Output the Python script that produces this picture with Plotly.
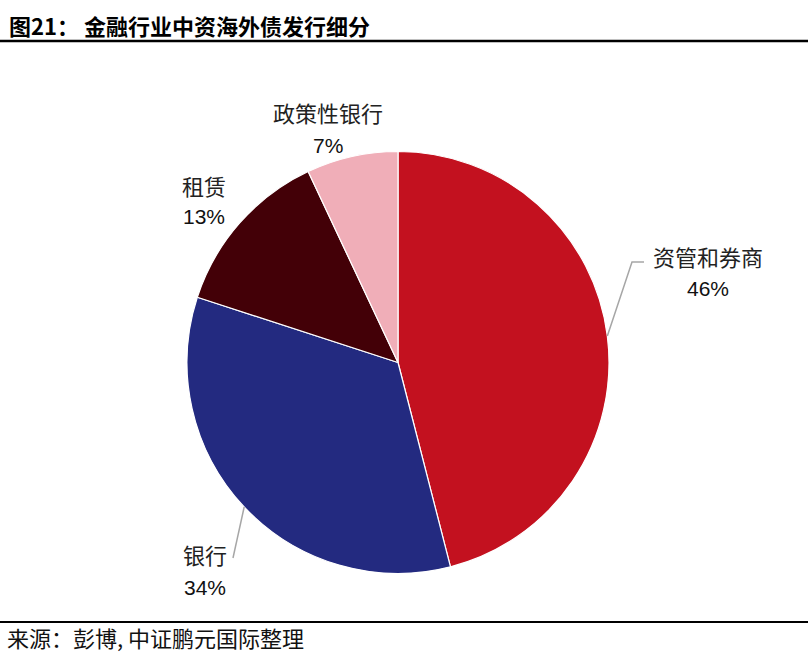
import math
import plotly.graph_objects as go

# 数据
labels = ['资管和券商', '银行', '租赁', '政策性银行']
shares = [46, 34, 13, 7]
colors = ['#C3111F', '#232A80', '#430007', '#F0AEB8']

title = '图21： 金融行业中资海外债发行细分'
source = '来源：彭博, 中证鹏元国际整理'

W, H = 808, 666
CX, CY, R = 398, 362.5, 211          # pie centre / radius in pixels

# label anchors (pixel) and leader-line routes for each slice
label_pos = {
    '资管和券商': (708, 256, 289),
    '银行': (205, 554, 587),
    '租赁': (204, 185, 217),
    '政策性银行': (328, 112, 145),
}
leader = {
    '资管和券商': [(632, 262), (644, 262)],
    '银行': [(233, 558)],
}

CJK = 'Noto Sans CJK SC'
LAT = 'Liberation Sans'


def px(x):
    return x / W


def py(y):
    return 1 - y / H


fig = go.Figure()
fig.add_trace(go.Pie(
    labels=labels, values=shares, sort=False, direction='clockwise', rotation=0,
    marker=dict(colors=colors, line=dict(color='white', width=1.2)),
    textinfo='none', hoverinfo='label+percent', showlegend=False,
    domain=dict(x=[px(CX - R), px(CX + R)], y=[py(CY + R), py(CY - R)]),
))

annotations = []
shapes = []
total = sum(shares)
cum = 0
for name, v in zip(labels, shares):
    mid = (cum + v / 2) / total * 2 * math.pi
    cum += v
    lx, ly1, ly2 = label_pos[name]
    annotations.append(dict(x=px(lx), y=py(ly1), xref='paper', yref='paper', text=name,
                            showarrow=False, font=dict(family=CJK, size=22, color='#222222'),
                            xanchor='center', yanchor='middle'))
    annotations.append(dict(x=px(lx), y=py(ly2), xref='paper', yref='paper',
                            text=f'{round(v / total * 100)}%',
                            showarrow=False, font=dict(family=LAT, size=21, color='#111111'),
                            xanchor='center', yanchor='middle'))
    if name in leader:
        ex = CX + R * math.sin(mid)
        ey = CY - R * math.cos(mid)
        pts = [(ex, ey)] + leader[name]
        path = 'M ' + ' L '.join(f'{px(a)},{py(b)}' for a, b in pts)
        shapes.append(dict(type='path', xref='paper', yref='paper', path=path,
                           line=dict(color='#A6A6A6', width=1.5)))

# title / source
annotations.append(dict(x=px(7), y=py(25), xref='paper', yref='paper', text='<b>' + title + '</b>',
                        showarrow=False, xanchor='left', yanchor='middle',
                        font=dict(family=CJK, size=22, color='#000000')))
annotations.append(dict(x=px(5), y=py(637), xref='paper', yref='paper', text=source,
                        showarrow=False, xanchor='left', yanchor='middle',
                        font=dict(family=CJK, size=22, color='#111111')))
shapes.append(dict(type='line', xref='paper', yref='paper', x0=0, x1=1, y0=py(41), y1=py(41),
                   line=dict(color='black', width=2.5)))
shapes.append(dict(type='line', xref='paper', yref='paper', x0=0, x1=1, y0=py(622), y1=py(622),
                   line=dict(color='black', width=2)))

fig.update_layout(width=W, height=H, margin=dict(l=0, r=0, t=0, b=0),
                  paper_bgcolor='white', plot_bgcolor='white',
                  annotations=annotations, shapes=shapes)
fig.write_html('out.html', config={'displayModeBar': False},
               post_script="document.body.style.margin='0';")
